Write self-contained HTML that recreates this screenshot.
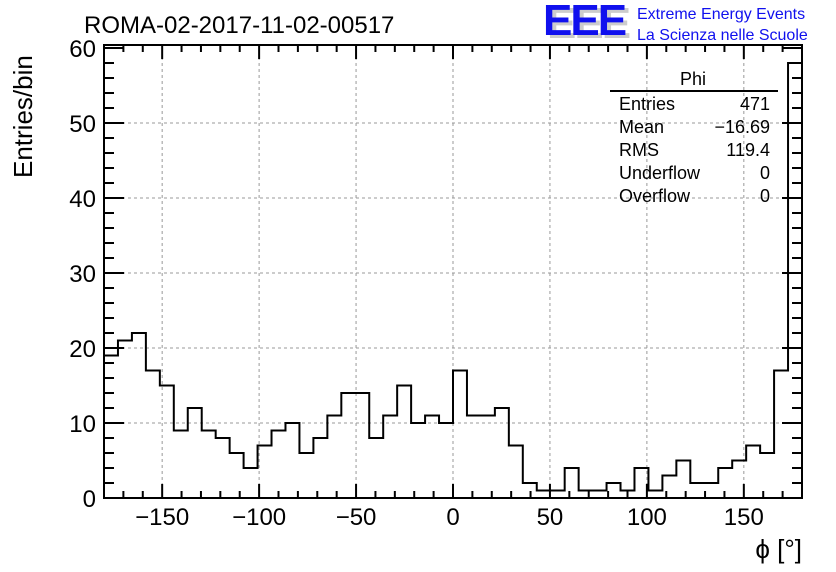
<!DOCTYPE html>
<html><head><meta charset="utf-8"><style>
body{margin:0;background:#fff}
svg{display:block;font-family:"Liberation Sans",sans-serif}
</style></head><body>
<svg id="chart" width="836" height="572" viewBox="0 0 836 572" xmlns="http://www.w3.org/2000/svg">
<rect width="836" height="572" fill="#fff"/>
<g id="grid"></g>
<g id="hist"></g>
<rect x="104" y="45" width="698" height="453" fill="none" stroke="#000" stroke-width="2"/>
<g id="axes"></g>
<text x="84" y="33" font-size="24">ROMA-02-2017-11-02-00517</text>
<g>
<text x="547" y="38" font-size="44" font-weight="bold" fill="#ccc" letter-spacing="-2">EEE</text>
<text x="543" y="35" font-size="44" font-weight="bold" fill="#1010ee" letter-spacing="-2">EEE</text>
<text x="637" y="19" font-size="16" fill="#1010ee">Extreme Energy Events</text>
<text x="637" y="40" font-size="16" fill="#1010ee">La Scienza nelle Scuole</text>
</g>
<g font-size="18">
<text x="693" y="85" text-anchor="middle">Phi</text>
<line x1="610" y1="91" x2="778" y2="91" stroke="#000" stroke-width="2"/>
<text x="619" y="110">Entries</text><text x="770" y="110" text-anchor="end">471</text>
<text x="619" y="133">Mean</text><text x="770" y="133" text-anchor="end">−16.69</text>
<text x="619" y="156">RMS</text><text x="770" y="156" text-anchor="end">119.4</text>
<text x="619" y="179">Underflow</text><text x="770" y="179" text-anchor="end">0</text>
<text x="619" y="202">Overflow</text><text x="770" y="202" text-anchor="end">0</text>
</g>
<text transform="translate(32,178) rotate(-90)" font-size="26">Entries/bin</text>
<text x="802" y="558" text-anchor="end" font-size="26">ϕ [°]</text>
</svg>
<script>
const counts=[19,21,22,17,15,9,12,9,8,6,4,7,9,10,6,8,11,14,14,8,11,15,10,11,10,
17,11,11,12,7,2,1,1,4,1,1,2,1,4,1,3,5,2,2,4,5,7,6,17,58];
const xTicks=[-150,-100,-50,0,50,100,150];
const xTickLabels=["−150","−100","−50","0","50","100","150"];
const yTicks=[0,10,20,30,40,50,60];
const xMin=-180,xMax=180,yMin=0,yMax=60.4;
const L=104,R=802,T=45,B=498;
const NS="http://www.w3.org/2000/svg";
const X=v=>L+(v-xMin)/(xMax-xMin)*(R-L);
const Y=v=>B-(v-yMin)/(yMax-yMin)*(B-T);
function mk(tag,attrs,parent){const e=document.createElementNS(NS,tag);for(const k in attrs)e.setAttribute(k,attrs[k]);parent.appendChild(e);return e;}
const grid=document.getElementById('grid'),axes=document.getElementById('axes'),hist=document.getElementById('hist');
xTicks.forEach((t,i)=>{
 const g=mk('line',{x1:X(t),x2:X(t),y1:T,y2:B,stroke:'#999','stroke-dasharray':'3,3','stroke-width':1},grid);
 
 
 const tx=mk('text',{x:X(t),y:525,'text-anchor':'middle','font-size':24},axes);
 tx.textContent=xTickLabels[i];
 
 
});
yTicks.forEach(t=>{
 if(t>0&&t<60){const g=mk('line',{x1:L,x2:R,y1:Y(t),y2:Y(t),stroke:'#999','stroke-dasharray':'3,3','stroke-width':1},grid);
 
 }
 const tx=mk('text',{x:96,y:Y(t)+9,'text-anchor':'end','font-size':24},axes);
 tx.textContent=t;
 
 
});
// minor/major ticks
for(let v=-175;v<=175;v+=10){const major=v%50===0;}
for(let v=-170;v<=170;v+=10){const major=v%50===0;const len=major?14:7;
 mk('line',{x1:X(v),x2:X(v),y1:B,y2:B-len,stroke:'#000','stroke-width':2},axes);
 mk('line',{x1:X(v),x2:X(v),y1:T,y2:T+len,stroke:'#000','stroke-width':2},axes);}
for(let v=2;v<=60;v+=2){const major=v%10===0;const len=major?20:10;
 mk('line',{x1:L,x2:L+len,y1:Y(v),y2:Y(v),stroke:'#000','stroke-width':2},axes);
 mk('line',{x1:R,x2:R-len,y1:Y(v),y2:Y(v),stroke:'#000','stroke-width':2},axes);}
const bw=(xMax-xMin)/counts.length;
let d='M'+X(xMin)+','+Y(0);
counts.forEach((c,i)=>{const x0=X(xMin+i*bw),x1=X(xMin+(i+1)*bw);d+=' L'+x0+','+Y(c)+' L'+x1+','+Y(c);});
d+=' L'+X(xMax)+','+Y(0);
const p=mk('path',{d:d,fill:'none',stroke:'#000','stroke-width':2},hist);


</script>
</body></html>
